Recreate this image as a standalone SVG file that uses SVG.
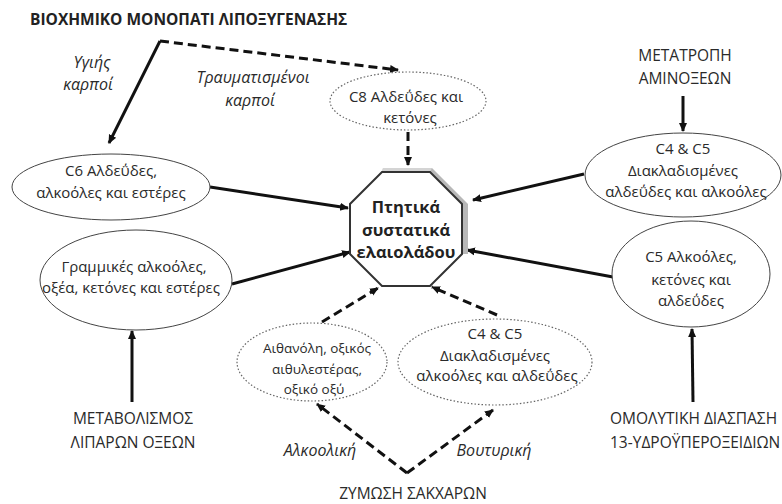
<svg xmlns="http://www.w3.org/2000/svg" width="782" height="504" viewBox="0 0 782 504">
<style>
text{font-family:"Open Sans","Liberation Sans",sans-serif;fill:#2a2a2a;font-size:15px;text-anchor:middle}
.t{font-weight:bold;font-size:15.5px;text-anchor:start;fill:#222}
.i{font-style:italic;font-size:16px}
.cap{font-size:15.5px}
.sm{font-size:13.5px}
.b{font-weight:bold;font-size:16.5px;fill:#222}
.e{fill:#fff;stroke:#444;stroke-width:1}
.d{fill:#fff;stroke:#666;stroke-width:1.2;stroke-dasharray:1.5 2}
.s{fill:none;stroke:#111;stroke-width:3}
.k{fill:none;stroke:#111;stroke-width:3;stroke-dasharray:9 5}
</style>
<defs>
<marker id="a" markerWidth="10" markerHeight="10" refX="8" refY="5" orient="auto" markerUnits="userSpaceOnUse">
<path d="M0,1 L9,5 L0,9 Z" fill="#111"/>
</marker>
</defs>
<rect width="782" height="504" fill="#fff"/>
<text class="t" x="30" y="25">ΒΙΟΧΗΜΙΚΟ ΜΟΝΟΠΑΤΙ ΛΙΠΟΞΥΓΕΝΑΣΗΣ</text>
<text class="i" x="92" y="68">Υγιής</text>
<text class="i" x="88" y="90">καρποί</text>
<text class="i" x="253" y="83">Τραυματισμένοι</text>
<text class="i" x="250" y="106">καρποί</text>
<g id="connectors">
<path class="s" d="M160,41 L109,143" marker-end="url(#a)"/>
<path class="k" d="M160,41 L398,70" marker-end="url(#a)"/>
<path class="k" d="M408,132 L408,165" marker-end="url(#a)"/>
<path class="s" d="M210,187 L348,208" marker-end="url(#a)"/>
<path class="s" d="M232,284 L350,252" marker-end="url(#a)"/>
<path class="s" d="M584,174 L473,200" marker-end="url(#a)"/>
<path class="s" d="M613,277 L467,250" marker-end="url(#a)"/>
<path class="k" d="M322,322 L378,288" marker-end="url(#a)"/>
<path class="k" d="M497,315 L432,287" marker-end="url(#a)"/>
<path class="s" d="M683,96 L683,131" marker-end="url(#a)"/>
<path class="s" d="M132,402 L132,331" marker-end="url(#a)"/>
<path class="s" d="M693,402 L692,329" marker-end="url(#a)"/>
<path class="k" d="M407,473 L317,404" marker-end="url(#a)"/>
<path class="k" d="M407,473 L493,410" marker-end="url(#a)"/>
</g>
<g id="c8">
<ellipse class="d" cx="408" cy="101" rx="78" ry="29"/>
<text x="406" y="102">C8 Αλδεΰδες και</text>
<text x="410" y="123">κετόνες</text>
</g>
<g id="c6">
<ellipse class="e" cx="111" cy="187" rx="99" ry="33"/>
<text x="111" y="176">C6 Αλδεΰδες,</text>
<text x="111" y="198">αλκοόλες και εστέρες</text>
</g>
<g id="linear">
<ellipse class="e" cx="136" cy="280" rx="96" ry="50"/>
<text x="134" y="272">Γραμμικές αλκοόλες,</text>
<text x="131" y="293">οξέα, κετόνες και εστέρες</text>
</g>
<g id="center">
<polygon points="383,168 432,168 468,204 468,254 462,254 462,204 430,172 382,172" fill="#b8b8b8"/>
<polygon points="383,168 432,168 430,172 382,172" fill="#d4d4d4"/>
<polygon points="382,172 430,172 462,204 462,254 430,286 382,286 350,254 350,204" fill="#fff" stroke="#333" stroke-width="2"/>
<text class="b" x="406" y="213">Πτητικά</text>
<text class="b" x="406" y="236">συστατικά</text>
<text class="b" x="406" y="258">ελαιολάδου</text>
</g>
<g id="amino">
<text class="cap" x="685" y="61">ΜΕΤΑΤΡΟΠΗ</text>
<text class="cap" x="685" y="84">ΑΜΙΝΟΞΕΩΝ</text>
</g>
<g id="c45top">
<ellipse class="e" cx="683" cy="175" rx="98" ry="42"/>
<text x="683" y="154">C4 &amp; C5</text>
<text x="683" y="176">Διακλαδισμένες</text>
<text x="686" y="197">αλδεΰδες και αλκοόλες</text>
</g>
<g id="c5">
<ellipse class="e" cx="691" cy="274" rx="79" ry="53"/>
<text x="691" y="262">C5 Αλκοόλες,</text>
<text x="691" y="285">κετόνες και</text>
<text x="691" y="306">αλδεΰδες</text>
</g>
<g id="lipid">
<text class="cap" x="133" y="424">ΜΕΤΑΒΟΛΙΣΜΟΣ</text>
<text class="cap" x="133" y="448">ΛΙΠΑΡΩΝ ΟΞΕΩΝ</text>
</g>
<g id="homo">
<text class="cap" x="610" y="424" style="text-anchor:start">ΟΜΟΛΥΤΙΚΗ ΔΙΑΣΠΑΣΗ</text>
<text class="cap" x="610" y="448" style="text-anchor:start">13-ΥΔΡΟΫΠΕΡΟΞΕΙΔΙΩΝ</text>
</g>
<g id="ethanol">
<ellipse class="d" cx="312" cy="362" rx="75" ry="39"/>
<text class="sm" x="317" y="353">Αιθανόλη, οξικός</text>
<text class="sm" x="317" y="374">αιθυλεστέρας,</text>
<text class="sm" x="314" y="394">οξικό οξύ</text>
</g>
<g id="c45bot">
<ellipse class="d" cx="495" cy="362" rx="97" ry="43"/>
<text x="495" y="339">C4 &amp; C5</text>
<text x="495" y="361">Διακλαδισμένες</text>
<text x="497" y="381">αλκοόλες και αλδεΰδες</text>
</g>
<text class="i" x="320" y="456">Αλκοολική</text>
<text class="i" x="494" y="456">Βουτυρική</text>
<g id="sugar">
<text class="cap" x="413" y="499">ΖΥΜΩΣΗ ΣΑΚΧΑΡΩΝ</text>
</g>
</svg>
